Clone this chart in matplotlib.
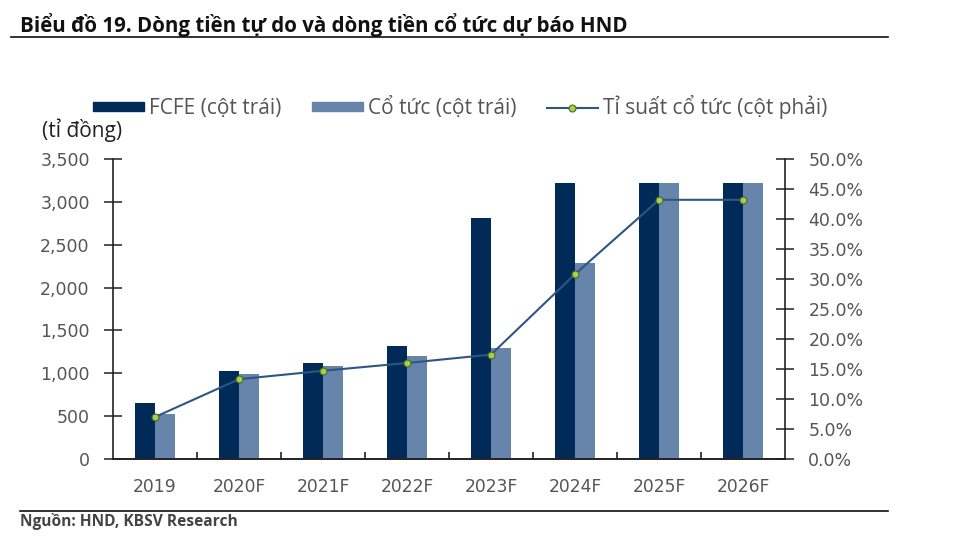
import numpy as np
import matplotlib.pyplot as plt
from matplotlib.lines import Line2D
from matplotlib.ticker import FuncFormatter, PercentFormatter

plt.rcParams['font.family'] = ['Open Sans', 'DejaVu Sans']

# số liệu
years = ['2019', '2020F', '2021F', '2022F', '2023F', '2024F', '2025F', '2026F']
fcfe = [653, 1030, 1124, 1318, 2815, 3216, 3216, 3216]
co_tuc = [525, 988, 1085, 1202, 1291, 2290, 3216, 3216]
ti_suat = [7.0, 13.3, 14.7, 16.0, 17.4, 30.8, 43.2, 43.2]

c_fcfe = '#002b59'
c_cotuc = '#6785aa'
c_line = '#2f5583'
c_text = '#555555'

fig = plt.figure(figsize=(9.54, 5.41), dpi=100)
ax = fig.add_axes([113 / 954, 1 - 459 / 541, 672 / 954, 300 / 541])
ax2 = ax.twinx()

x = np.arange(len(years))
w = 0.24
ax.bar(x - w / 2, fcfe, w, color=c_fcfe, zorder=2)
ax.bar(x + w / 2, co_tuc, w, color=c_cotuc, zorder=2)

ax2.plot(x, ti_suat, color=c_line, lw=1.5, marker='o', ms=5,
         mfc='#a8cf45', mec='#4a6a2a', mew=0.8, zorder=3)

ax.set_xlim(-0.5, len(years) - 0.5)
ax.set_ylim(0, 3500)
ax2.set_ylim(0, 50)
ax.set_yticks(np.arange(0, 3501, 500))
ax2.set_yticks(np.arange(0, 50.1, 5))
ax.yaxis.set_major_formatter(FuncFormatter(lambda v, p: f'{v:,.0f}'))
ax2.yaxis.set_major_formatter(PercentFormatter(decimals=1))

tick_font = 'DejaVu Sans'

# trục x: vạch chia giữa các nhóm cột
ax.set_xticks(x)
ax.set_xticklabels(years, family=tick_font)
ax.set_xticks(np.arange(0.5, len(years) - 0.5, 1), minor=True)
ax.tick_params(axis='x', which='major', length=0, pad=13.5, labelsize=12.3, labelcolor=c_text)
ax.tick_params(axis='x', which='minor', direction='in', length=5, width=1.2, color='#222222')

for a in (ax, ax2):
    a.tick_params(axis='y', direction='inout', length=12.5, width=1.1, pad=10.5,
                  labelsize=12.5, labelcolor=c_text, color='#222222')
    for lab in a.get_yticklabels():
        lab.set_family(tick_font)
    a.spines['top'].set_visible(False)
    for s in ('left', 'right', 'bottom'):
        a.spines[s].set_linewidth(1.2)
        a.spines[s].set_color('#222222')
ax2.spines['left'].set_visible(False)
ax.spines['right'].set_visible(False)
ax.set_zorder(ax2.get_zorder() - 1)
ax.patch.set_visible(False)
ax2.patch.set_visible(False)

# chú giải
handles = [
    plt.Rectangle((0, 0), 1, 1, color=c_fcfe),
    plt.Rectangle((0, 0), 1, 1, color=c_cotuc),
    Line2D([], [], color=c_line, lw=1.5, marker='o', ms=5,
           mfc='#a8cf45', mec='#4a6a2a', mew=0.8),
]
labels = ['FCFE (cột trái)', 'Cổ tức (cột trái)', 'Tỉ suất cổ tức (cột phải)']
fig.legend(handles, labels, loc='center left', bbox_to_anchor=(93 / 954, 1 - 107 / 541),
           ncol=3, frameon=False, fontsize=15, handlelength=2.45, handleheight=0.35,
           handletextpad=0.25, columnspacing=1.45, borderpad=0, borderaxespad=0,
           labelcolor=c_text)

fig.text(42 / 954, 1 - 130 / 541, '(tỉ đồng)', fontsize=15, color='#222222', va='center')

# tiêu đề và nguồn
fig.text(20 / 954, 1 - 25 / 541, 'Biểu đồ 19. Dòng tiền tự do và dòng tiền cổ tức dự báo HND',
         fontsize=14.8, fontweight='bold', color='#111111', va='center')
fig.add_artist(Line2D([11 / 954, 888 / 954], [1 - 37 / 541, 1 - 37 / 541],
                      color='#111111', lw=1.2))
fig.add_artist(Line2D([20 / 954, 888 / 954], [1 - 511 / 541, 1 - 511 / 541],
                      color='#111111', lw=1.2))
fig.text(20 / 954, 1 - 522 / 541, 'Nguồn: HND, KBSV Research',
         fontsize=11.2, fontweight='bold', color='#444444', va='center')

fig.savefig('out.png', dpi=100)
